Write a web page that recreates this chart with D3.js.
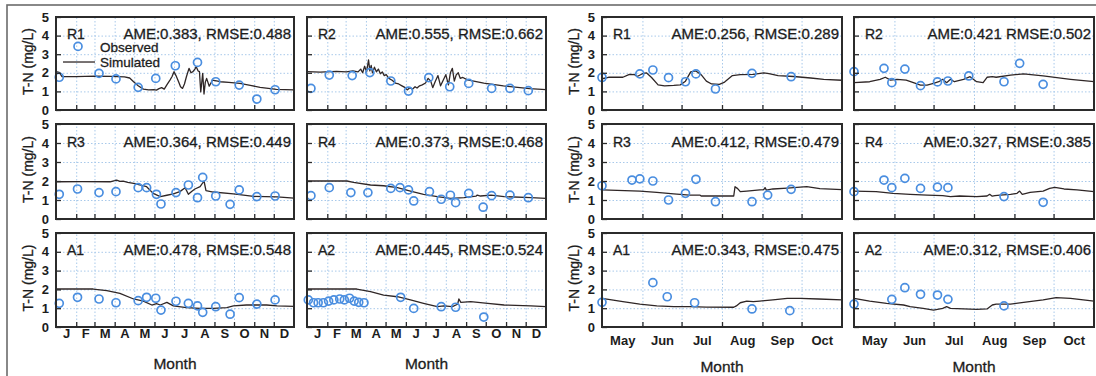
<!DOCTYPE html>
<html>
<head>
<meta charset="utf-8">
<script src="https://cdn.jsdelivr.net/npm/d3@7"></script>
<style>
  body { margin: 0; background: #fff; }
  svg { display: block; font-family: "Liberation Sans", Arial, Helvetica, sans-serif; }
  .thick { stroke: #1c1c1c; stroke-width: 0.3px; paint-order: stroke; }
</style>
</head>
<body>
<div id="chart"></div>
<script>
// month boundaries as day-of-year, and the labels drawn between them
const monthStarts = [0, 31, 59, 90, 120, 151, 181, 212, 243, 273, 304, 334, 365];
const yearMonthLabels = ["J", "F", "M", "A", "M", "J", "J", "A", "S", "O", "N", "D"];
const seasonMonthStarts = [120, 151, 181, 212, 243, 273, 304];
const seasonMonthLabels = ["May", "Jun", "Jul", "Aug", "Sep", "Oct"];
const yTicks = [0, 1, 2, 3, 4, 5];
const gridValues = [1, 2, 3, 4];

const siteNames = ["R1", "R2", "R3", "R4", "A1", "A2"];
const metricsYear = ["AME:0.383, RMSE:0.488", "AME:0.555, RMSE:0.662", "AME:0.364, RMSE:0.449",
                     "AME:0.373, RMSE:0.468", "AME:0.478, RMSE:0.548", "AME:0.445, RMSE:0.524"];
const metricsSeason = ["AME:0.256, RMSE:0.289", "AME:0.421 RMSE:0.502", "AME:0.412, RMSE:0.479",
                       "AME:0.327, RMSE:0.385", "AME:0.343, RMSE:0.475", "AME:0.312, RMSE:0.406"];

// [day of year, T-N mg/L]
const obsYearR1 = [[5,1.76],[66,1.97],[92,1.67],[126,1.22],[153,1.70],[183,2.38],[217,2.56],[245,1.52],[281,1.34],[308,0.59],[336,1.09]];
const simYearR1 = [[0,2.06],[5,2.02],[9,1.8],[30,1.79],[60,1.82],[85,1.81],[105,1.78],[113,1.72],[119,1.52],[126,1.3],[134,1.12],[142,1.08],[150,1.1],[154,1.07],[158,1.15],[162,1.2],[166,1.12],[170,1.35],[175,1.62],[178,1.8],[181,2.06],[184,1.85],[188,1.52],[191,1.25],[194,1.16],[197,1.4],[200,1.79],[204,2.24],[207,2.0],[210,2.06],[213,2.2],[215,2.33],[218,2.1],[220,2.06],[222,0.97],[225,1.97],[227,0.86],[229,1.5],[231,1.7],[235,1.28],[240,1.61],[252,1.52],[265,1.48],[282,1.43],[298,1.32],[313,1.22],[338,1.11],[365,1.08]];

const obsYearR2 = [[6,1.16],[34,1.88],[69,1.85],[96,2.01],[128,1.56],[155,1.02],[186,1.74],[218,1.25],[247,1.43],[282,1.16],[310,1.16],[338,1.04]];
const simYearR2 = [[0,2.06],[20,2.04],[45,2.08],[60,2.05],[70,2.1],[78,2.05],[82,2.2],[85,2.0],[88,2.35],[91,2.05],[94,2.69],[96,2.1],[98,2.4],[100,2.0],[103,2.3],[106,2.05],[109,2.2],[112,1.95],[115,2.05],[118,1.85],[121,1.9],[125,1.7],[130,1.6],[135,1.45],[140,1.4],[145,1.3],[150,1.2],[153,1.08],[157,1.2],[161,1.12],[165,1.25],[168,1.18],[172,1.3],[176,1.35],[181,1.45],[185,1.7],[189,1.55],[192,1.2],[196,1.55],[200,1.85],[204,1.3],[208,1.6],[212,1.9],[216,1.35],[219,2.0],[222,2.24],[225,1.55],[228,1.9],[231,2.0],[234,1.7],[238,1.75],[245,1.62],[270,1.45],[300,1.3],[340,1.15],[365,1.1]];

const obsYearR3 = [[5,1.30],[33,1.58],[66,1.39],[92,1.44],[126,1.65],[139,1.65],[154,1.30],[161,0.79],[184,1.39],[203,1.79],[217,1.12],[225,2.19],[245,1.21],[267,0.77],[281,1.53],[308,1.18],[336,1.21]];
const simYearR3 = [[0,1.96],[40,1.97],[83,1.96],[90,2.02],[93,2.05],[98,1.98],[103,1.99],[110,1.93],[119,1.88],[130,1.78],[139,1.70],[149,1.35],[160,1.18],[170,1.25],[180,1.32],[190,1.44],[198,1.65],[203,1.3],[208,1.45],[213,1.58],[221,1.70],[227,2.0],[230,1.49],[241,1.42],[272,1.32],[303,1.19],[339,1.16],[365,1.1]];

const obsYearR4 = [[6,1.23],[34,1.65],[67,1.39],[93,1.39],[128,1.61],[142,1.65],[155,1.53],[163,0.95],[187,1.44],[205,1.04],[219,1.25],[227,0.86],[247,1.35],[269,0.62],[282,1.23],[310,1.26],[338,1.12]];
const simYearR4 = [[0,2.0],[61,2.0],[71,1.93],[97,1.79],[117,1.75],[138,1.65],[158,1.47],[178,1.30],[199,1.18],[219,1.09],[240,1.12],[258,1.2],[260,1.26],[265,1.21],[281,1.26],[301,1.18],[342,1.12],[365,1.09]];

const obsYearA1 = [[5,1.26],[33,1.58],[66,1.49],[92,1.29],[126,1.40],[139,1.58],[153,1.53],[161,0.90],[184,1.37],[203,1.26],[217,1.12],[225,0.78],[245,1.08],[267,0.68],[281,1.56],[308,1.22],[336,1.44]];
const simYearA1 = [[0,2.02],[57,2.02],[78,1.93],[98,1.79],[119,1.49],[134,1.38],[147,1.17],[154,1.24],[160,1.17],[170,1.31],[180,1.12],[200,1.03],[221,0.99],[241,0.99],[262,1.03],[272,1.12],[292,1.17],[323,1.17],[339,1.12],[365,1.1]];

const obsYearA2 = [[2,1.44],[10,1.29],[17,1.29],[25,1.29],[33,1.38],[41,1.44],[50,1.49],[57,1.44],[65,1.53],[72,1.38],[79,1.31],[87,1.29],[143,1.58],[163,0.99],[205,1.08],[227,1.05],[270,0.53]];
const simYearA2 = [[0,2.02],[76,2.02],[97,1.88],[117,1.70],[138,1.61],[158,1.44],[178,1.26],[199,1.08],[209,1.12],[222,1.08],[230,1.21],[232,1.49],[235,1.31],[250,1.35],[276,1.26],[301,1.17],[342,1.12],[365,1.08]];

const obsSeasonR1 = [[120,1.75],[149,1.94],[159,2.15],[171,1.74],[184,1.52],[192,1.94],[207,1.13],[235,1.97],[265,1.79]];
const simSeasonR1 = [[120,1.68],[125,1.76],[136,1.76],[141,1.92],[145,1.9],[147,1.8],[151,1.95],[154,2.0],[158,1.75],[163,1.35],[168,1.3],[175,1.32],[180,1.35],[184,1.55],[188,2.05],[192,2.1],[196,1.9],[200,1.55],[204,1.4],[210,1.38],[214,1.5],[220,1.85],[226,1.9],[236,1.92],[244,2.0],[248,1.95],[255,1.85],[267,1.8],[280,1.72],[290,1.65],[304,1.6]];

const obsSeasonR2 = [[120,2.06],[143,2.24],[149,1.47],[159,2.20],[171,1.31],[184,1.51],[192,1.56],[208,1.83],[235,1.52],[247,2.51],[265,1.38]];
const simSeasonR2 = [[120,1.47],[132,1.52],[140,1.65],[144,1.76],[148,1.61],[153,1.65],[160,1.61],[165,1.49],[171,1.34],[176,1.34],[181,1.43],[185,1.52],[188,1.65],[191,1.47],[194,1.65],[197,1.52],[204,1.65],[209,1.79],[214,1.52],[219,1.47],[222,1.76],[226,1.79],[229,1.76],[240,1.88],[250,1.94],[265,1.83],[286,1.65],[304,1.52]];

const obsSeasonR3 = [[120,1.75],[143,2.05],[149,2.11],[159,2.0],[171,1.0],[184,1.35],[192,2.09],[207,0.91],[235,0.91],[247,1.26],[265,1.56]];
const simSeasonR3 = [[120,1.53],[149,1.47],[162,1.40],[175,1.32],[187,1.26],[195,1.26],[196,1.21],[200,1.21],[221,1.21],[222,1.70],[224,1.6],[226,1.44],[231,1.47],[241,1.53],[244,1.55],[245,1.65],[246,1.52],[251,1.58],[262,1.63],[277,1.7],[287,1.6],[304,1.55]];

const obsSeasonR4 = [[120,1.44],[143,2.05],[149,1.65],[159,2.14],[171,1.61],[184,1.68],[192,1.65],[235,1.18],[265,0.88]];
const simSeasonR4 = [[120,1.47],[137,1.44],[150,1.35],[163,1.30],[176,1.26],[188,1.23],[194,1.18],[201,1.21],[214,1.18],[222,1.21],[224,1.30],[226,1.2],[228,1.23],[232,1.26],[240,1.30],[245,1.35],[247,1.47],[249,1.30],[255,1.40],[265,1.47],[270,1.61],[274,1.67],[281,1.58],[291,1.53],[304,1.44]];

const obsSeasonA1 = [[120,1.31],[159,2.36],[170,1.61],[191,1.29],[235,0.96],[264,0.87]];
const simSeasonA1 = [[120,1.52],[136,1.35],[149,1.22],[162,1.12],[175,1.08],[187,1.08],[200,1.06],[221,1.05],[223,1.12],[226,1.29],[231,1.38],[236,1.35],[241,1.38],[251,1.44],[262,1.52],[272,1.52],[286,1.49],[304,1.44]];

const obsSeasonA2 = [[120,1.22],[149,1.47],[159,2.09],[171,1.74],[184,1.70],[192,1.47],[235,1.12]];
const simSeasonA2 = [[120,1.52],[132,1.38],[145,1.26],[158,1.17],[163,1.08],[173,0.99],[181,0.90],[188,0.99],[191,1.08],[194,0.99],[204,0.96],[214,0.94],[222,0.96],[226,1.17],[229,1.22],[240,1.22],[250,1.31],[265,1.44],[275,1.56],[286,1.52],[304,1.38]];

// layout
const W = 1096, H = 376;
const cols = [
  { x: 56, w: 238, season: false, yLabels: true },
  { x: 307, w: 239, season: false, yLabels: false },
  { x: 602, w: 240, season: true, yLabels: true },
  { x: 854, w: 240, season: true, yLabels: false }
];
const rows = [
  { top: 17, bottom: 110 },
  { top: 124, bottom: 219 },
  { top: 233, bottom: 327 }
];

const obsColor = "#4a8ee0";
const simColor = "#2f2626";
const gridColor = "#a8c9ea";
const frameColor = "#2b2b2b";
const textColor = "#1c1c1c";

const yearObs = [obsYearR1, obsYearR2, obsYearR3, obsYearR4, obsYearA1, obsYearA2];
const yearSim = [simYearR1, simYearR2, simYearR3, simYearR4, simYearA1, simYearA2];
const seasonObs = [obsSeasonR1, obsSeasonR2, obsSeasonR3, obsSeasonR4, obsSeasonA1, obsSeasonA2];
const seasonSim = [simSeasonR1, simSeasonR2, simSeasonR3, simSeasonR4, simSeasonA1, simSeasonA2];

const panels = [];
siteNames.forEach((name, i) => {
  const row = Math.floor(i / 2), sub = i % 2;
  panels.push({ row, col: sub, name, metric: metricsYear[i], obs: yearObs[i], sim: yearSim[i] });
  panels.push({ row, col: sub + 2, name, metric: metricsSeason[i], obs: seasonObs[i], sim: seasonSim[i] });
});

const svg = d3.select("#chart").append("svg")
  .attr("width", W)
  .attr("height", H);

svg.append("rect").attr("width", W).attr("height", H).attr("fill", "#fff");

// outer frame
svg.append("rect")
  .attr("x", 7).attr("y", 5)
  .attr("width", 1100).attr("height", 380)
  .attr("fill", "none")
  .attr("stroke", "#6b6b6b")
  .attr("stroke-width", 1.6);

panels.forEach(p => {
  const c = cols[p.col], r = rows[p.row];
  const bounds = c.season ? seasonMonthStarts : monthStarts;
  const labels = c.season ? seasonMonthLabels : yearMonthLabels;
  const inner = bounds.slice(1, -1);
  const mids = labels.map((d, i) => (bounds[i] + bounds[i + 1]) / 2);

  const x = d3.scaleLinear().domain([bounds[0], bounds[bounds.length - 1]]).range([c.x, c.x + c.w]);
  const y = d3.scaleLinear().domain([0, 5]).range([r.bottom, r.top]);
  const h = r.bottom - r.top;
  const g = svg.append("g");

  // dotted grid
  g.append("g")
    .attr("transform", `translate(${c.x},0)`)
    .call(d3.axisLeft(y).tickValues(gridValues).tickSize(-c.w).tickFormat(""))
    .call(s => s.select(".domain").remove())
    .selectAll("line")
    .attr("stroke", gridColor).attr("stroke-width", 1).attr("stroke-dasharray", "1.5,2");
  g.append("g")
    .attr("transform", `translate(0,${r.bottom})`)
    .call(d3.axisBottom(x).tickValues(inner).tickSize(-h).tickFormat(""))
    .call(s => s.select(".domain").remove())
    .selectAll("line")
    .attr("stroke", gridColor).attr("stroke-width", 1).attr("stroke-dasharray", "1.5,2");

  // simulated
  g.append("path")
    .datum(p.sim)
    .attr("fill", "none")
    .attr("stroke", simColor)
    .attr("stroke-width", 1.3)
    .attr("stroke-linejoin", "round")
    .attr("d", d3.line().x(d => x(d[0])).y(d => y(d[1])));

  // observed
  g.selectAll("circle.obs")
    .data(p.obs)
    .join("circle")
    .attr("class", "obs")
    .attr("cx", d => x(d[0]))
    .attr("cy", d => y(d[1]))
    .attr("r", 4)
    .attr("fill", "none")
    .attr("stroke", obsColor)
    .attr("stroke-width", 1.7);

  // frame
  g.append("rect")
    .attr("x", c.x).attr("y", r.top)
    .attr("width", c.w).attr("height", h)
    .attr("fill", "none")
    .attr("stroke", frameColor)
    .attr("stroke-width", 2);

  // inward ticks
  const yAxis = g.append("g")
    .attr("transform", `translate(${c.x},0)`)
    .call(d3.axisLeft(y).tickValues(yTicks).tickSize(-5).tickPadding(7)
      .tickFormat(c.yLabels ? d3.format("d") : ""));
  yAxis.select(".domain").remove();
  yAxis.selectAll("line").attr("stroke", frameColor).attr("stroke-width", 1.3);
  yAxis.selectAll("text")
    .attr("fill", textColor)
    .style("font-size", "13px")
    .style("font-weight", "bold");

  const xAxis = g.append("g")
    .attr("transform", `translate(0,${r.bottom})`)
    .call(d3.axisBottom(x).tickValues(inner).tickSize(-5).tickFormat(""));
  xAxis.select(".domain").remove();
  xAxis.selectAll("line").attr("stroke", frameColor).attr("stroke-width", 1.3);

  if (p.row === rows.length - 1) {
    const lab = g.append("g")
      .attr("transform", `translate(0,${r.bottom})`)
      .call(d3.axisBottom(x).tickValues(mids).tickSize(0).tickPadding(c.season ? 9 : 2)
        .tickFormat((d, i) => labels[i]));
    lab.select(".domain").remove();
    lab.selectAll("text")
      .attr("fill", textColor)
      .style("font-size", "13px")
      .style("font-weight", "bold");

    g.append("text")
      .attr("class", "thick")
      .attr("x", c.x + c.w / 2)
      .attr("y", c.season ? 372 : 369)
      .attr("text-anchor", "middle")
      .attr("fill", textColor)
      .style("font-size", "15.5px")
      .text("Month");
  }

  if (c.yLabels) {
    g.append("text")
      .attr("class", "thick")
      .attr("transform", `translate(${c.x - 28},${(r.top + r.bottom) / 2 - 2}) rotate(-90)`)
      .attr("text-anchor", "middle")
      .attr("dy", "0.35em")
      .attr("fill", textColor)
      .style("font-size", "14px")
      .text("T-N (mg/L)");
  }

  // site label and error metrics
  g.append("text")
    .attr("class", "thick")
    .attr("x", c.x + 11)
    .attr("y", y(4) + 3.5)
    .attr("fill", textColor)
    .style("font-size", "14px")
    .text(p.name);
  g.append("text")
    .attr("class", "thick")
    .attr("x", c.x + c.w - 3)
    .attr("y", y(4) + 3.5)
    .attr("text-anchor", "end")
    .attr("fill", textColor)
    .style("font-size", "15px")
    .text(p.metric);

  if (p.row === 0 && p.col === 0) {
    const leg = g.append("g");
    leg.append("circle")
      .attr("cx", c.x + 22).attr("cy", y(3.42)).attr("r", 4)
      .attr("fill", "none").attr("stroke", obsColor).attr("stroke-width", 1.7);
    leg.append("text")
      .attr("class", "thick")
      .attr("x", c.x + 44).attr("y", y(3.42) + 5.5)
      .attr("fill", textColor).style("font-size", "13.5px")
      .text("Observed");
    leg.append("line")
      .attr("x1", c.x + 7).attr("x2", c.x + 39)
      .attr("y1", y(2.58)).attr("y2", y(2.58))
      .attr("stroke", simColor).attr("stroke-width", 1.3);
    leg.append("text")
      .attr("class", "thick")
      .attr("x", c.x + 44).attr("y", y(2.58) + 5)
      .attr("fill", textColor).style("font-size", "13.5px")
      .text("Simulated");
  }
});
</script>
</body>
</html>
